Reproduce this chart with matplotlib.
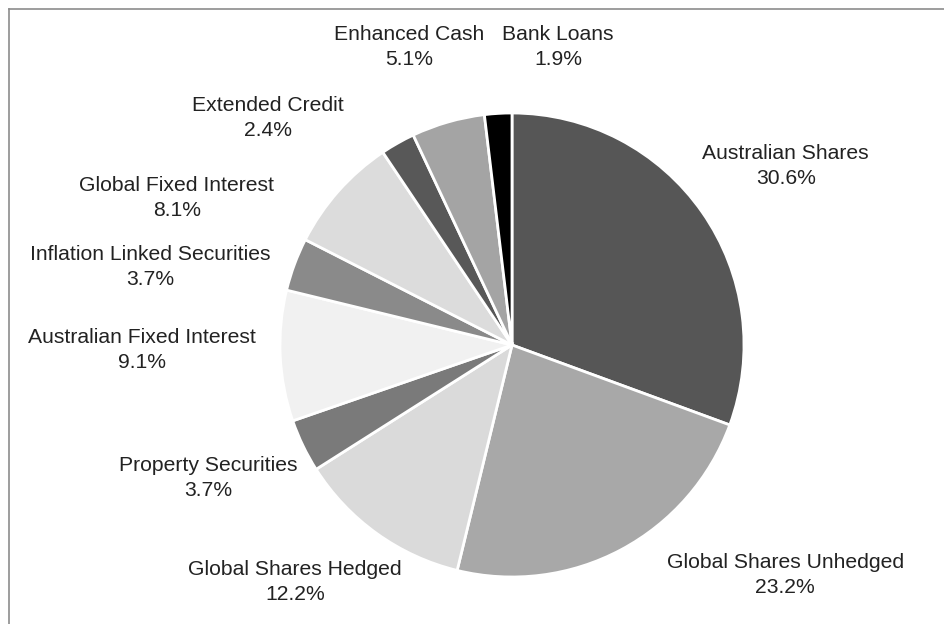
import matplotlib.pyplot as plt
from matplotlib.lines import Line2D

# asset allocation (clockwise from 12 o'clock)
labels = ["Australian Shares", "Global Shares Unhedged", "Global Shares Hedged",
          "Property Securities", "Australian Fixed Interest",
          "Inflation Linked Securities", "Global Fixed Interest",
          "Extended Credit", "Enhanced Cash", "Bank Loans"]
values = [30.6, 23.2, 12.2, 3.7, 9.1, 3.7, 8.1, 2.4, 5.1, 1.9]

colors = ["#565656", "#a8a8a8", "#dadada", "#7a7a7a", "#f1f1f1",
          "#8a8a8a", "#dcdcdc", "#585858", "#a4a4a4", "#000000"]

# label centres in pie units (radius = 1)
label_pos = [(1.18, 0.77), (1.177, -0.99), (-0.935, -1.02), (-1.31, -0.575),
             (-1.595, -0.02), (-1.56, 0.335), (-1.444, 0.634), (-1.052, 0.98),
             (-0.444, 1.285), (0.198, 1.285)]

plt.rcParams['font.family'] = ['Liberation Sans', 'DejaVu Sans']

fig = plt.figure(figsize=(9.45, 6.24), dpi=100)

cx, cy, r = 512, 345, 232
W, H = 945, 624
ax = fig.add_axes([(cx - r) / W, (H - cy - r) / H, 2 * r / W, 2 * r / H])

ax.pie(values, colors=colors, startangle=90, counterclock=False, radius=1,
       wedgeprops=dict(edgecolor="white", linewidth=2))
ax.set_xlim(-1, 1)
ax.set_ylim(-1, 1)
ax.set_aspect("equal")
ax.axis("off")

for lab, v, (x, y) in zip(labels, values, label_pos):
    ax.text(x, y, f"{lab}\n{v:.1f}%", ha="center", va="center",
            fontsize=15.2, color="#222222", linespacing=1.4, clip_on=False)

# frame lines (top and left only)
fig.add_artist(Line2D([9 / W, 1], [1 - 8.5 / H, 1 - 8.5 / H],
                      transform=fig.transFigure, color="#8c8c8c", lw=1.2))
fig.add_artist(Line2D([9.5 / W, 9.5 / W], [0, 1 - 8.5 / H],
                      transform=fig.transFigure, color="#8c8c8c", lw=1.2))

fig.savefig("out.png", dpi=100)
